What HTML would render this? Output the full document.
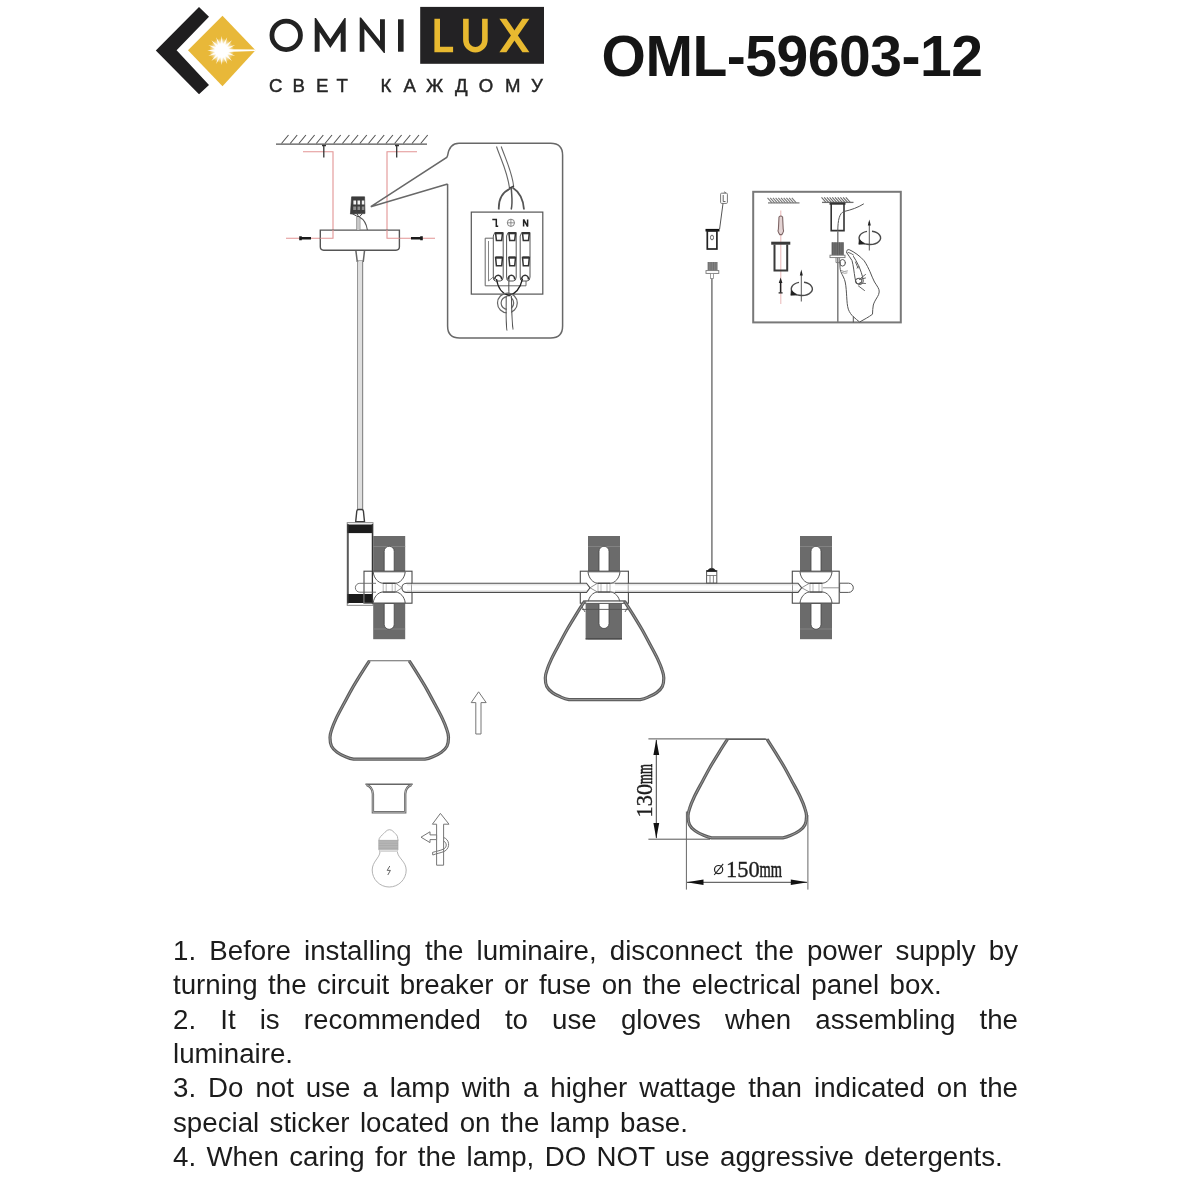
<!DOCTYPE html>
<html>
<head>
<meta charset="utf-8">
<title>OML-59603-12</title>
<style>
html,body{margin:0;padding:0;background:#fff;}
body{will-change:transform;width:1200px;height:1200px;position:relative;overflow:hidden;font-family:"Liberation Sans",sans-serif;}
#art{position:absolute;left:0;top:0;width:1200px;height:1200px;}
#title{position:absolute;left:601.5px;top:26px;font-size:57px;font-weight:bold;color:#151515;line-height:60px;white-space:nowrap;letter-spacing:-0.45px;}
.ln{position:absolute;left:173px;width:845px;font-size:27.7px;line-height:34px;height:34px;color:#1c1c1c;white-space:nowrap;word-spacing:2.7px;}
.j{text-align:justify;text-align-last:justify;white-space:normal;word-spacing:0;}
</style>
</head>
<body>
<svg id="art" viewBox="0 0 1200 1200" width="1200" height="1200">
<g id="logo">
<polygon points="155.8,50.6 199,7 209,16.8 176.6,50.2 209,85 199,94.2" fill="#1f1e1f"/>
<polygon points="188,50.3 222.5,15.8 255.5,50.3 222.5,86.2" fill="#e8b839"/>
<polygon points="236.2,50.6 228.1,51.9 235.1,56.1 227.1,54.2 232.0,60.9 225.3,56.0 227.2,64.0 223.0,57.0 221.7,65.1 220.4,57.0 216.2,64.0 218.1,56.0 211.4,60.9 216.3,54.2 208.3,56.1 215.3,51.9 207.2,50.6 215.3,49.3 208.3,45.1 216.3,47.0 211.4,40.3 218.1,45.2 216.2,37.2 220.4,44.2 221.7,36.1 223.0,44.2 227.2,37.2 225.3,45.2 232.0,40.3 227.1,47.0 235.1,45.1 228.1,49.3" fill="#fff" opacity="0.9"/>
<defs><radialGradient id="glow"><stop offset="0" stop-color="#fff" stop-opacity="1"/><stop offset="0.55" stop-color="#fff" stop-opacity="0.85"/><stop offset="1" stop-color="#fff" stop-opacity="0"/></radialGradient></defs><circle cx="221.7" cy="50.6" r="12.5" fill="url(#glow)"/><circle cx="221.7" cy="50.6" r="7" fill="#fff"/>
<polygon points="225,49.3 255.5,49.6 255.5,51 225,52" fill="#fff"/>
<circle cx="286.2" cy="35.3" r="14.25" fill="none" stroke="#222" stroke-width="4.8"/>
<polygon fill="#222" points="314.7,51.7 314.7,18 316,18 330.3,39.3 344.5,18 345.7,18 345.7,51.7 340.7,51.7 340.7,32.5 330.3,48 319.6,32 319.6,51.7"/>
<polygon fill="#222" points="359.7,51.7 359.7,17.6 361,17.6 380,41 380,19.3 384.9,19.3 384.9,53 383.9,53 364.4,29 364.4,51.7"/>
<rect x="398" y="19.3" width="5.6" height="32.4" fill="#222"/>
<rect x="420.2" y="6.9" width="123.8" height="56.9" fill="#232224"/>
<path d="M437.2,18.75 V49.5 H453.1" fill="none" stroke="#e8b930" stroke-width="5.6"/>
<path d="M465.9,18.75 V40 A9.5,9.7 0 0 0 484.9,40 V18.75" fill="none" stroke="#e8b930" stroke-width="5.6"/>
<path d="M499.4,18.75 H506.4 L529.4,52.25 H522.4 Z" fill="#e8b930"/><path d="M529.4,18.75 H522.4 L499.4,52.25 H506.4 Z" fill="#e8b930"/>
<text x="269 292.6 316 336.5 380.5 403.5 426 455 478.8 505 531" y="92" font-family="Liberation Sans, sans-serif" font-size="18.6" fill="#262626" stroke="#262626" stroke-width="0.45">СВЕТКАЖДОМУ</text>
</g>
<g id="mount" fill="none" stroke-linecap="butt">
<path d="M281.5,143.5 l7,-8.5 M290.2,143.5 l7,-8.5 M298.9,143.5 l7,-8.5 M307.6,143.5 l7,-8.5 M316.3,143.5 l7,-8.5 M325.0,143.5 l7,-8.5 M333.7,143.5 l7,-8.5 M342.4,143.5 l7,-8.5 M351.1,143.5 l7,-8.5 M359.8,143.5 l7,-8.5 M368.5,143.5 l7,-8.5 M377.2,143.5 l7,-8.5 M385.9,143.5 l7,-8.5 M394.6,143.5 l7,-8.5 M403.3,143.5 l7,-8.5 M412.0,143.5 l7,-8.5 M420.7,143.5 l7,-8.5" stroke="#555" stroke-width="1.1"/>
<path d="M276,144.2 H427" stroke="#555" stroke-width="1.3"/>
<path d="M303,151.7 H333 V238.3 H286" stroke="#e29494" stroke-width="1.1"/>
<path d="M417,151.7 H387 V238.3 H435" stroke="#e29494" stroke-width="1.1"/>
<path d="M323.8,145 V157.5 M322,145.5 h4" stroke="#333" stroke-width="1.3"/>
<path d="M396.7,145 V157.5 M395,145.5 h4" stroke="#333" stroke-width="1.3"/>
<path d="M300.5,236.3 v4 M301,238.3 H311" stroke="#1a1a1a" stroke-width="2.6"/>
<path d="M421.5,236.3 v4 M411,238.3 H421" stroke="#1a1a1a" stroke-width="2.6"/>
<path d="M320.3,230.1 H399.4 V246.8 Q399.4,250.2 396,250.2 H323.6 Q320.3,250.2 320.3,246.8 Z" stroke="#555" stroke-width="1.4" fill="#fff"/>
<path d="M333,230 V238.3 H320.3 M387,230 V238.3 H399.7" stroke="#e29494" stroke-width="1.1"/>
<path d="M355.9,250.8 L357.2,261.2 H363.3 L364.5,250.8" stroke="#666" stroke-width="1.5"/>
<path d="M357.7,261 V509.5 M362.6,261 V509.5" stroke="#8c8c8c" stroke-width="1.2"/>
<path d="M358.3,261 V509.5 h3.7 V261z" stroke="none" fill="#dfdfdf"/>
<!-- small terminal -->
<path d="M351.6,196.8 H364.6 L365,213.6 L350.4,214 Z" fill="#3c3c3c" stroke="#333" stroke-width="0.6"/>
<path d="M353.4,200.6 h2.7 v3.9 h-2.7z M357.5,200.6 h2.6 v3.9 h-2.6z M361.8,200.6 h2.5 v3.9 h-2.5z" fill="#f2f2f2" stroke="none"/>
<path d="M353.2,206.4 h2.9 v3.6 h-2.9z M357.5,206.4 h2.6 v3.6 h-2.6z M361.8,206.4 h2.5 v3.6 h-2.5z" fill="#8d8d8d" stroke="none"/>
<path d="M352,213.5 L358.6,217.2 M355.5,211 L358.8,217 M362.5,213.5 L359.2,217" stroke="#444" stroke-width="1"/>
<path d="M357,217 V230 H359.6 V217 Z" fill="#c9c9c9" stroke="none"/>
<path d="M356.6,217 V230 M360,217 V230" stroke="#888" stroke-width="0.8"/>
<path d="M359.4,217 Q366,220.5 367.4,230" stroke="#555" stroke-width="1.1"/>
<!-- callout -->
<path d="M447.6,184 V326 Q447.6,338 459.6,338 H550.6 Q562.6,338 562.6,326 V155.2 Q562.6,143.2 550.6,143.2 H459 Q449.5,143.2 447.6,155.5 L446.7,157.5 L370.8,206.7 L447.6,184" stroke="#686868" stroke-width="1.5"/>
<rect x="471.3" y="212.1" width="71.5" height="82" stroke="#555" stroke-width="1.2"/>
</g>
<g id="callout" fill="none">
<path d="M485.2,238.2 H493.5 M485.2,238.2 V285.8 H526 V281" stroke="#666" stroke-width="1"/>
<path d="M488.5,241 V281 L493.3,277" stroke="#777" stroke-width="0.9"/>
<path d="M493.3,236 L494.8,232.5 H503.2 V277 Q503.2,281 500.2,281 H495.3 Q493.3,281 493.3,277 Z" fill="#fff" stroke="#555" stroke-width="1"/>
<path d="M495.6,233.2 h6.899999999999977 l-0.8,7.2 h-5.299999999999978 z" fill="#fff" stroke="#333" stroke-width="1.5"/>
<path d="M495.6,233.2 h6.899999999999977" stroke="#333" stroke-width="2.2" fill="none"/>
<path d="M495.6,257.5 h6.899999999999977 l-0.8,8.3 h-5.299999999999978 z" fill="#fff" stroke="#333" stroke-width="1.5"/>
<path d="M495.6,257.5 h6.899999999999977" stroke="#333" stroke-width="2.2" fill="none"/>
<path d="M494.8,279.5 A3.4499999999999886,4.2 0 0 1 501.7,279.5" fill="none" stroke="#333" stroke-width="1.6"/>
<path d="M506.6,236 L508.1,232.5 H516.2 V277 Q516.2,281 513.2,281 H508.6 Q506.6,281 506.6,277 Z" fill="#fff" stroke="#555" stroke-width="1"/>
<path d="M508.90000000000003,233.2 h6.600000000000023 l-0.8,7.2 h-5.000000000000023 z" fill="#fff" stroke="#333" stroke-width="1.5"/>
<path d="M508.90000000000003,233.2 h6.600000000000023" stroke="#333" stroke-width="2.2" fill="none"/>
<path d="M508.90000000000003,257.5 h6.600000000000023 l-0.8,8.3 h-5.000000000000023 z" fill="#fff" stroke="#333" stroke-width="1.5"/>
<path d="M508.90000000000003,257.5 h6.600000000000023" stroke="#333" stroke-width="2.2" fill="none"/>
<path d="M508.1,279.5 A3.3000000000000114,4.2 0 0 1 514.7,279.5" fill="none" stroke="#333" stroke-width="1.6"/>
<path d="M520.2,236 L521.7,232.5 H530 V277 Q530,281 527,281 H522.2 Q520.2,281 520.2,277 Z" fill="#fff" stroke="#555" stroke-width="1"/>
<path d="M522.5,233.2 h6.7999999999999545 l-0.8,7.2 h-5.199999999999955 z" fill="#fff" stroke="#333" stroke-width="1.5"/>
<path d="M522.5,233.2 h6.7999999999999545" stroke="#333" stroke-width="2.2" fill="none"/>
<path d="M522.5,257.5 h6.7999999999999545 l-0.8,8.3 h-5.199999999999955 z" fill="#fff" stroke="#333" stroke-width="1.5"/>
<path d="M522.5,257.5 h6.7999999999999545" stroke="#333" stroke-width="2.2" fill="none"/>
<path d="M521.7,279.5 A3.3999999999999773,4.2 0 0 1 528.5,279.5" fill="none" stroke="#333" stroke-width="1.6"/>
<!-- cable in from top -->
<path d="M496.5,146.5 C501,160 507,170 509.6,188.5" stroke="#666" stroke-width="1.1"/>
<path d="M501.2,146.5 C506,160 512,172 513.6,186" stroke="#666" stroke-width="1.1"/>
<path d="M509,188.5 l5,-2.5" stroke="#444" stroke-width="1.4"/>
<path d="M510.5,188.5 C500,193 498.5,202 498.8,209.5" stroke="#555" stroke-width="1.8"/>
<path d="M512.5,187.5 C521,193 523.5,202 524,209.5" stroke="#555" stroke-width="1.8"/>
<path d="M511.3,188 C511.5,195 513,202 511.2,209.5" stroke="#555" stroke-width="1.5"/>
<!-- labels -->
<path d="M492.3,219.4 h4 v6.8 h1.9" stroke="#222" stroke-width="1.5"/>
<circle cx="510.9" cy="222.8" r="3.6" stroke="#777" stroke-width="0.9"/>
<path d="M507.3,222.8 h7.2 M510.9,219.2 v7.2" stroke="#777" stroke-width="0.8"/>
<path d="M523.6,226.6 v-7.2 l4,7.2 v-7.2" stroke="#222" stroke-width="1.5" stroke-linejoin="bevel"/>
<!-- bottom wires -->
<path d="M496.5,279 C498,289 503,294 509,295.5" stroke="#222" stroke-width="1.3"/>
<path d="M522.5,279 C520,289 515,294 509,295.5" stroke="#222" stroke-width="1.3"/>
<path d="M509.2,276 C508.6,284 508.8,290 509,296" stroke="#444" stroke-width="1"/>
<circle cx="507.4" cy="303" r="9.9" stroke="#666" stroke-width="1.2"/>
<circle cx="507.4" cy="303" r="6.3" stroke="#666" stroke-width="1.2"/>
<path d="M506.2,296 C506.4,310 505.6,322 507,330.5" stroke="#555" stroke-width="1.1" />
<path d="M511.4,296 C511.8,310 511.6,320 513,329.5" stroke="#555" stroke-width="1.1"/>
<path d="M506.9,296.5 C507.1,310 506.3,322 507.7,330 L512.3,329 C511,320 511.1,310 510.7,296.5z" fill="#fff" stroke="none"/>
</g>
<g id="hookitem" fill="none">
<rect x="720.6" y="193.2" width="6.8" height="10.2" rx="1" stroke="#777" stroke-width="1"/>
<path d="M723.2,195 v6.5 h2.3 M723.8,192.8 q0.8,-1.6 2,0" stroke="#555" stroke-width="0.9"/>
<path d="M723,203.5 L719.6,229" stroke="#555" stroke-width="1"/>
<path d="M705.5,230.2 H719.5" stroke="#111" stroke-width="2.6"/>
<rect x="707.3" y="231" width="9.6" height="18" stroke="#222" stroke-width="1.7" fill="#fff"/>
<ellipse cx="712" cy="237.5" rx="1.5" ry="2.4" stroke="#555" stroke-width="0.9"/>
<rect x="707.6" y="262" width="9.8" height="8.5" fill="#8a8a8a" stroke="none"/>
<path d="M708.4,262 V270.5 M710.1,262 V270.5 M711.8,262 V270.5 M713.5,262 V270.5 M715.2,262 V270.5 M716.9,262 V270.5" stroke="#666" stroke-width="0.7"/>
<rect x="706" y="270.6" width="12.8" height="2.8" fill="#fff" stroke="#777" stroke-width="0.9"/>
<rect x="710.6" y="273.4" width="2.8" height="5" fill="#fff" stroke="#888" stroke-width="0.8"/>
<path d="M711.9,278.4 V568" stroke="#777" stroke-width="1.5"/>
</g>
<g id="stepbox" fill="none">
<rect x="753.2" y="191.8" width="147.6" height="130.6" stroke="#787878" stroke-width="2"/>
<!-- left step -->
<path d="M768,202.9 H799.5" stroke="#808080" stroke-width="1.3"/>
<path d="M772.0,202.8 l-4.5,-5 M774.7,202.8 l-4.5,-5 M777.4,202.8 l-4.5,-5 M780.1,202.8 l-4.5,-5 M782.8,202.8 l-4.5,-5 M785.5,202.8 l-4.5,-5 M788.2,202.8 l-4.5,-5 M790.9,202.8 l-4.5,-5 M793.6,202.8 l-4.5,-5 M796.3,202.8 l-4.5,-5" stroke="#7c7c7c" stroke-width="1.1"/>
<path d="M780.8,210.5 V304" stroke="#e5a4a4" stroke-width="0.8"/>
<path d="M779,217 q1.8,-2 3.6,0 l0.6,12 q1,2 -0.4,4 l-1,1.6 h-2 l-1,-1.6 q-1.4,-2 -0.4,-4 z" stroke="#7d6464" stroke-width="1.1" fill="#e3d3d3"/>
<path d="M771.2,243.2 H790.3" stroke="#3a3a3a" stroke-width="3"/>
<path d="M774.5,244.5 V270.4 H787.2 V244.5" stroke="#3a3a3a" stroke-width="2"/>
<path d="M780.6,281.5 V292.5" stroke="#222" stroke-width="1.5"/>
<path d="M778.6,292.8 h4 M780.6,279.5 l-1,3 h2z" stroke="#222" stroke-width="1.2"/>
<path d="M801.3,272 V301.5" stroke="#555" stroke-width="1"/>
<path d="M801.3,269.5 l-1.5,6 h3z" fill="#222" stroke="none"/>
<path d="M799,282.4 A10.5,6.7 0 1 0 804,282.3" stroke="#4a4a4a" stroke-width="1.4"/>
<path d="M791.2,290.5 l5.2,4.6 l-5.6,0.2z" fill="#222" stroke="#222" stroke-width="0.6"/>
<!-- right step -->
<path d="M822,202.4 H853.5" stroke="#707070" stroke-width="1.3"/>
<path d="M826.0,202.3 l-4.5,-5 M828.7,202.3 l-4.5,-5 M831.4,202.3 l-4.5,-5 M834.1,202.3 l-4.5,-5 M836.8,202.3 l-4.5,-5 M839.5,202.3 l-4.5,-5 M842.2,202.3 l-4.5,-5 M844.9,202.3 l-4.5,-5 M847.6,202.3 l-4.5,-5 M850.3,202.3 l-4.5,-5" stroke="#6c6c6c" stroke-width="1.1"/>
<path d="M829.5,203.6 H845.5" stroke="#333" stroke-width="2.2"/>
<path d="M831.2,204 V230.6 H844 V204" stroke="#333" stroke-width="1.6"/>
<path d="M837.8,231 C837.8,220 839.5,213 844,211.5 C851,210 858,207.5 863.8,203.8" stroke="#555" stroke-width="1"/>
<path d="M837.8,231 V322" stroke="#7c7c7c" stroke-width="1.5"/>
<rect x="831.6" y="242.3" width="12.2" height="12.8" fill="#777" stroke="none"/>
<path d="M832.4,242.3 V255 M834.1,242.3 V255 M835.9,242.3 V255 M837.6,242.3 V255 M839.4,242.3 V255 M841.1,242.3 V255 M842.9,242.3 V255" stroke="#555" stroke-width="0.8"/>
<rect x="830" y="255.2" width="15" height="2.4" fill="#fff" stroke="#777" stroke-width="0.9"/>
<path d="M836,257.6 v5 h3.6 v-5" stroke="#777" stroke-width="0.9"/>
<path d="M869.3,222 V250.5" stroke="#555" stroke-width="1"/>
<path d="M869.3,219.5 l-1.5,6 h3z" fill="#222" stroke="none"/>
<path d="M867,231.4 A10.7,6.7 0 1 0 872,231.3" stroke="#4a4a4a" stroke-width="1.4"/>
<path d="M859.2,239.5 l5.2,4.6 l-5.6,0.2z" fill="#222" stroke="#222" stroke-width="0.6"/>
<g id="hand" fill="none" stroke="#555" stroke-width="1" stroke-linejoin="round" stroke-linecap="round">
<path d="M846.8,252.8 C846,250.5 847.5,249 849.5,249.8 C854,251.8 860,256 864.2,260.8 C867,265 868.5,268.5 870,271.7 C871.5,275.5 873,279 874.5,282 C877,286 879.6,289 879.2,292 C879,294 878.3,295.5 877.5,296.7 C875.5,300 874,302.5 873.3,305 C872.6,308 872.8,311 872.5,314.2 C869,317 864,319.5 860,321.8" fill="#fff"/>
<path d="M840.2,262.5 C839.6,265.5 840,269 840.8,271.7 C842.5,275.5 844.5,278.5 845.2,282 C846.2,287 846.4,292 846.7,296.7 C847,301.5 847.2,305.5 848.3,309.2 C849.5,312.5 851.5,315 853.3,316.7 C855.5,318.7 857.5,320.3 859.3,321.8"/>
<path d="M853.3,316.7 V322" />
<path d="M846.8,252.8 C848.5,255.5 850.5,258 852,260.5 C853.5,266 854,272 855,278 C855.5,281 856.5,283.5 858.5,284.6 C861,285.2 863,283.5 863.3,281 C862.5,275 860.5,270 858.5,265.5 C857,262 855,259 853.5,256.5"/>
<ellipse cx="858.6" cy="281" rx="3.2" ry="2.6" transform="rotate(-20 858.6 281)"/>
<ellipse cx="842.6" cy="262.8" rx="2.8" ry="3.3"/>
<path d="M848.5,252.5 q3,0.8 5,2.5" stroke-width="0.9"/>
<path d="M855.5,262 l2.5,6 M857,268 l2,-1.5 M859.5,279.5 l6,-1.5 M860,283 l5.5,0.5 M858.5,286 l6,4.5 M861,278 l4.5,-3.5" stroke-width="0.9"/>
<path d="M841,270.5 q3,2 6.5,0.5 M842,272.5 q2.5,1.5 5,0.5" stroke-width="0.8" stroke="#888"/>
</g>
</g>
<g id="lamp" fill="none">
<path d="M355.7,521.6 L356.8,511 Q357,509.5 358.6,509.5 H361.6 Q363.2,509.5 363.4,511 L364.5,521.6 Z" fill="#fff" stroke="#3c3c3c" stroke-width="1.4"/>
<rect x="347.2" y="522.7" width="25.8" height="82.6" fill="#fff" stroke="#777" stroke-width="0.9"/>
<rect x="347.4" y="524.5" width="25.4" height="8.6" fill="#1b1b1b"/>
<rect x="347.4" y="594" width="25.4" height="9" fill="#1b1b1b"/>
<path d="M348,524 V603.5 M372.4,524 V603.5" stroke="#333" stroke-width="1.3"/>
<rect x="373.2" y="536" width="32" height="35.200000000000045" fill="#6b6b6b"/>
<rect x="373.2" y="603.5" width="32" height="35.700000000000045" fill="#6b6b6b"/>
<path d="M373.2,546.5 H405.2 M373.2,629 H405.2" stroke="#8d8d8d" stroke-width="0.7"/>
<path d="M384.2,571.5 V551.3 A5,5 0 0 1 394.2,551.3 V571.5 Z" fill="#fff" stroke="#444" stroke-width="0.8"/>
<path d="M384.2,603.3 V624.3 A5,5 0 0 0 394.2,624.3 V603.3 Z" fill="#fff" stroke="#444" stroke-width="0.8"/>
<rect x="364" y="571.2" width="48" height="32" fill="#fff" stroke="#4a4a4a" stroke-width="1.1"/>
<rect x="588" y="536" width="32" height="35.200000000000045" fill="#6b6b6b"/>
<rect x="588" y="603.5" width="32" height="35.700000000000045" fill="#6b6b6b"/>
<path d="M588,546.5 H620 M588,629 H620" stroke="#8d8d8d" stroke-width="0.7"/>
<path d="M599,571.5 V551.3 A5,5 0 0 1 609,551.3 V571.5 Z" fill="#fff" stroke="#444" stroke-width="0.8"/>
<path d="M599,603.3 V624.3 A5,5 0 0 0 609,624.3 V603.3 Z" fill="#fff" stroke="#444" stroke-width="0.8"/>
<rect x="580.3" y="571.2" width="48.10000000000002" height="32" fill="#fff" stroke="#4a4a4a" stroke-width="1.1"/>
<rect x="800" y="536" width="32" height="35.200000000000045" fill="#6b6b6b"/>
<rect x="800" y="603.5" width="32" height="35.700000000000045" fill="#6b6b6b"/>
<path d="M800,546.5 H832 M800,629 H832" stroke="#8d8d8d" stroke-width="0.7"/>
<path d="M811,571.5 V551.3 A5,5 0 0 1 821,551.3 V571.5 Z" fill="#fff" stroke="#444" stroke-width="0.8"/>
<path d="M811,603.3 V624.3 A5,5 0 0 0 821,624.3 V603.3 Z" fill="#fff" stroke="#444" stroke-width="0.8"/>
<rect x="792.3" y="571.2" width="46.90000000000009" height="32" fill="#fff" stroke="#4a4a4a" stroke-width="1.1"/>
<rect x="364" y="594" width="8.8" height="9" fill="#1b1b1b"/><path d="M364,594 V603.2 H373" stroke="#888" stroke-width="0.9"/><path d="M372.4,571 V603.5" stroke="#333" stroke-width="1.3"/>
<path d="M376,583.3 H359.8 A4.4,4.4 0 0 0 359.8,592.2 H376" stroke="#666" stroke-width="0.9"/>
<!-- bars -->
<path d="M412,583.2 H586 L589.8,587.8 L586,592.4 H412 Z" fill="#fff" stroke="none"/>
<path d="M628.4,583.2 H792.3 V592.4 H628.4 Z" fill="#fff" stroke="none"/>
<path d="M406.5,592.4 A4.6,4.6 0 0 1 406.5,583.2 H586.5 L590,587.8 L586.5,592.4 H406.5" stroke="#4d4d4d" stroke-width="1.1"/>
<path d="M615,583.2 H798 L801.7,587.8 L798,592.4 H615" stroke="#4d4d4d" stroke-width="1.1"/>
<path d="M839.6,583.2 H848.7 A4.6,4.6 0 0 1 848.7,592.4 H839.6 Z" fill="#fff" stroke="#555" stroke-width="1"/>
<path d="M395.7,583.2 L401.9,587.8 L395.7,592 M590,587.8 L597.5,583.2 M590,587.8 L597.5,592 M610.5,583.2 L615,583.2 M610.5,592 L615,592.4 M801.7,587.8 L809.5,583.2 M801.7,587.8 L809.5,592 M822.5,587.8 H839.6" stroke="#777" stroke-width="0.8"/>
<path d="M407,584.8 H587 M615,584.8 H798 M407,590.9 H587 M615,590.9 H798" stroke="#cfcfcf" stroke-width="0.7"/>
<path d="M373.2,571.8 C373.7,578 378.2,583 382.7,583.2 H395.7 C400.2,583 404.7,578 405.2,571.8 Z" fill="#fff" stroke="#555" stroke-width="1"/>
<path d="M373.2,603 C373.7,597 378.2,592.2 382.7,592 H395.7 C400.2,592.2 404.7,597 405.2,603 Z" fill="#fff" stroke="#555" stroke-width="1"/>
<rect x="382.7" y="583.8" width="13" height="7.6" fill="#fff"/>
<path d="M383.2,583.2 V592 M386.2,583.2 V592 M392.2,583.2 V592 M395.2,583.2 V592" stroke="#999" stroke-width="0.7"/>
<path d="M382.7,583.2 H395.7 M382.7,592 H395.7" stroke="#333" stroke-width="1.1"/>
<path d="M588,571.8 C588.5,578 593,583 597.5,583.2 H610.5 C615,583 619.5,578 620,571.8 Z" fill="#fff" stroke="#555" stroke-width="1"/>
<path d="M588,603 C588.5,597 593,592.2 597.5,592 H610.5 C615,592.2 619.5,597 620,603 Z" fill="#fff" stroke="#555" stroke-width="1"/>
<rect x="597.5" y="583.8" width="13" height="7.6" fill="#fff"/>
<path d="M598,583.2 V592 M601,583.2 V592 M607,583.2 V592 M610,583.2 V592" stroke="#999" stroke-width="0.7"/>
<path d="M597.5,583.2 H610.5 M597.5,592 H610.5" stroke="#333" stroke-width="1.1"/>
<path d="M800,571.8 C800.5,578 805,583 809.5,583.2 H822.5 C827,583 831.5,578 832,571.8 Z" fill="#fff" stroke="#555" stroke-width="1"/>
<path d="M800,603 C800.5,597 805,592.2 809.5,592 H822.5 C827,592.2 831.5,597 832,603 Z" fill="#fff" stroke="#555" stroke-width="1"/>
<rect x="809.5" y="583.8" width="13" height="7.6" fill="#fff"/>
<path d="M810,583.2 V592 M813,583.2 V592 M819,583.2 V592 M822,583.2 V592" stroke="#999" stroke-width="0.7"/>
<path d="M809.5,583.2 H822.5 M809.5,592 H822.5" stroke="#333" stroke-width="1.1"/>
<rect x="706.6" y="570.5" width="10.2" height="12.5" fill="#fff" stroke="#555" stroke-width="1"/>
<path d="M706.8,571.5 Q711.7,565 716.6,571.5 Z" fill="#222" stroke="#222" stroke-width="0.8"/>
<path d="M706.6,575.5 h10.2 M710,575.5 v7.5 M713.4,575.5 v7.5" stroke="#666" stroke-width="0.8"/>
<!-- middle shade top join -->
<rect x="585.6" y="603.5" width="36.4" height="35.8" fill="#6b6b6b"/>
<path d="M599,603.3 V623.5 A5,5 0 0 0 609,623.5 V603.3 Z" fill="#fff" stroke="#444" stroke-width="0.8"/>
<path d="M585.6,638.8 H622" stroke="#444" stroke-width="1.2"/>
<path d="M582,609.4 H628 M584.4,600.8 L581.5,606 L585,612 M625,600.8 L628.5,606 L625,612" stroke="#555" stroke-width="0.9"/>
<g transform="translate(543.7,600.7)"><path d="M41.0,0.5 C39.5,2.7 35.3,9.2 32.4,13.9 C29.5,18.6 26.3,23.8 23.4,28.8 C20.6,33.8 17.9,38.9 15.3,43.8 C12.7,48.6 9.8,53.8 7.8,58.1 C5.8,62.4 4.2,66.3 3.2,69.5 C2.1,72.7 1.6,74.5 1.6,77.2 C1.6,79.9 1.9,83.3 3.1,85.8 C4.3,88.3 6.4,90.2 8.7,91.9 C11.1,93.7 14.4,95.3 17.2,96.4 C19.9,97.6 22.4,98.5 25.2,98.9 L96.5,98.9 C99.3,98.5 101.8,97.6 104.5,96.4 C107.3,95.3 110.6,93.7 113.0,91.9 C115.3,90.2 117.4,88.3 118.6,85.8 C119.8,83.3 120.1,79.9 120.1,77.2 C120.1,74.5 119.6,72.7 118.5,69.5 C117.5,66.3 115.9,62.4 113.9,58.1 C111.9,53.8 109.0,48.6 106.4,43.8 C103.8,38.9 101.1,33.8 98.3,28.8 C95.4,23.8 92.2,18.6 89.3,13.9 C86.4,9.2 82.2,2.7 80.8,0.5" fill="none" stroke="#5c5c5c" stroke-width="3.2" stroke-linejoin="round"/><path d="M41.0,0.5 C39.5,2.7 35.3,9.2 32.4,13.9 C29.5,18.6 26.3,23.8 23.4,28.8 C20.6,33.8 17.9,38.9 15.3,43.8 C12.7,48.6 9.8,53.8 7.8,58.1 C5.8,62.4 4.2,66.3 3.2,69.5 C2.1,72.7 1.6,74.5 1.6,77.2 C1.6,79.9 1.9,83.3 3.1,85.8 C4.3,88.3 6.4,90.2 8.7,91.9 C11.1,93.7 14.4,95.3 17.2,96.4 C19.9,97.6 22.4,98.5 25.2,98.9 L96.5,98.9 C99.3,98.5 101.8,97.6 104.5,96.4 C107.3,95.3 110.6,93.7 113.0,91.9 C115.3,90.2 117.4,88.3 118.6,85.8 C119.8,83.3 120.1,79.9 120.1,77.2 C120.1,74.5 119.6,72.7 118.5,69.5 C117.5,66.3 115.9,62.4 113.9,58.1 C111.9,53.8 109.0,48.6 106.4,43.8 C103.8,38.9 101.1,33.8 98.3,28.8 C95.4,23.8 92.2,18.6 89.3,13.9 C86.4,9.2 82.2,2.7 80.8,0.5" fill="none" stroke="#a8a8a8" stroke-width="0.8"/><path d="M39.8,0.5 H82" stroke="#666" stroke-width="1.1" fill="none"/></g>
<rect x="586.5" y="601.6" width="36.5" height="1.8" fill="#fff"/>
<path d="M584.4,600.8 H625 M586.5,603.4 H623" stroke="#555" stroke-width="0.9"/>
<g transform="translate(328.4,660.3)"><path d="M41.0,0.5 C39.5,2.7 35.3,9.2 32.4,13.9 C29.5,18.6 26.3,23.8 23.4,28.8 C20.6,33.8 17.9,38.9 15.3,43.8 C12.7,48.6 9.8,53.8 7.8,58.1 C5.8,62.4 4.2,66.3 3.2,69.5 C2.1,72.7 1.6,74.5 1.6,77.2 C1.6,79.9 1.9,83.3 3.1,85.8 C4.3,88.3 6.4,90.2 8.7,91.9 C11.1,93.7 14.4,95.3 17.2,96.4 C19.9,97.6 22.4,98.5 25.2,98.9 L96.5,98.9 C99.3,98.5 101.8,97.6 104.5,96.4 C107.3,95.3 110.6,93.7 113.0,91.9 C115.3,90.2 117.4,88.3 118.6,85.8 C119.8,83.3 120.1,79.9 120.1,77.2 C120.1,74.5 119.6,72.7 118.5,69.5 C117.5,66.3 115.9,62.4 113.9,58.1 C111.9,53.8 109.0,48.6 106.4,43.8 C103.8,38.9 101.1,33.8 98.3,28.8 C95.4,23.8 92.2,18.6 89.3,13.9 C86.4,9.2 82.2,2.7 80.8,0.5" fill="none" stroke="#5c5c5c" stroke-width="3.2" stroke-linejoin="round"/><path d="M41.0,0.5 C39.5,2.7 35.3,9.2 32.4,13.9 C29.5,18.6 26.3,23.8 23.4,28.8 C20.6,33.8 17.9,38.9 15.3,43.8 C12.7,48.6 9.8,53.8 7.8,58.1 C5.8,62.4 4.2,66.3 3.2,69.5 C2.1,72.7 1.6,74.5 1.6,77.2 C1.6,79.9 1.9,83.3 3.1,85.8 C4.3,88.3 6.4,90.2 8.7,91.9 C11.1,93.7 14.4,95.3 17.2,96.4 C19.9,97.6 22.4,98.5 25.2,98.9 L96.5,98.9 C99.3,98.5 101.8,97.6 104.5,96.4 C107.3,95.3 110.6,93.7 113.0,91.9 C115.3,90.2 117.4,88.3 118.6,85.8 C119.8,83.3 120.1,79.9 120.1,77.2 C120.1,74.5 119.6,72.7 118.5,69.5 C117.5,66.3 115.9,62.4 113.9,58.1 C111.9,53.8 109.0,48.6 106.4,43.8 C103.8,38.9 101.1,33.8 98.3,28.8 C95.4,23.8 92.2,18.6 89.3,13.9 C86.4,9.2 82.2,2.7 80.8,0.5" fill="none" stroke="#a8a8a8" stroke-width="0.8"/><path d="M39.8,0.5 H82" stroke="#666" stroke-width="1.1" fill="none"/></g>
<g transform="translate(686.4,738.9)"><path d="M41.0,0.5 C39.5,2.7 35.3,9.2 32.4,13.9 C29.5,18.6 26.3,23.8 23.4,28.8 C20.6,33.8 17.9,38.9 15.3,43.8 C12.7,48.6 9.8,53.8 7.8,58.1 C5.8,62.4 4.2,66.3 3.2,69.5 C2.1,72.7 1.6,74.5 1.6,77.2 C1.6,79.9 1.9,83.3 3.1,85.8 C4.3,88.3 6.4,90.2 8.7,91.9 C11.1,93.7 14.4,95.3 17.2,96.4 C19.9,97.6 22.4,98.5 25.2,98.9 L96.5,98.9 C99.3,98.5 101.8,97.6 104.5,96.4 C107.3,95.3 110.6,93.7 113.0,91.9 C115.3,90.2 117.4,88.3 118.6,85.8 C119.8,83.3 120.1,79.9 120.1,77.2 C120.1,74.5 119.6,72.7 118.5,69.5 C117.5,66.3 115.9,62.4 113.9,58.1 C111.9,53.8 109.0,48.6 106.4,43.8 C103.8,38.9 101.1,33.8 98.3,28.8 C95.4,23.8 92.2,18.6 89.3,13.9 C86.4,9.2 82.2,2.7 80.8,0.5" fill="none" stroke="#5c5c5c" stroke-width="3.2" stroke-linejoin="round"/><path d="M41.0,0.5 C39.5,2.7 35.3,9.2 32.4,13.9 C29.5,18.6 26.3,23.8 23.4,28.8 C20.6,33.8 17.9,38.9 15.3,43.8 C12.7,48.6 9.8,53.8 7.8,58.1 C5.8,62.4 4.2,66.3 3.2,69.5 C2.1,72.7 1.6,74.5 1.6,77.2 C1.6,79.9 1.9,83.3 3.1,85.8 C4.3,88.3 6.4,90.2 8.7,91.9 C11.1,93.7 14.4,95.3 17.2,96.4 C19.9,97.6 22.4,98.5 25.2,98.9 L96.5,98.9 C99.3,98.5 101.8,97.6 104.5,96.4 C107.3,95.3 110.6,93.7 113.0,91.9 C115.3,90.2 117.4,88.3 118.6,85.8 C119.8,83.3 120.1,79.9 120.1,77.2 C120.1,74.5 119.6,72.7 118.5,69.5 C117.5,66.3 115.9,62.4 113.9,58.1 C111.9,53.8 109.0,48.6 106.4,43.8 C103.8,38.9 101.1,33.8 98.3,28.8 C95.4,23.8 92.2,18.6 89.3,13.9 C86.4,9.2 82.2,2.7 80.8,0.5" fill="none" stroke="#a8a8a8" stroke-width="0.8"/><path d="M39.8,0.5 H82" stroke="#666" stroke-width="1.1" fill="none"/></g>
</g>
<g id="parts" fill="none">
<!-- up arrow -->
<path d="M478.6,691.8 L486.2,702.6 H481 V734 H475.8 V702.6 H471.2 Z" stroke="#777" stroke-width="1" fill="#fff"/>
<!-- socket cup -->
<path d="M365.4,784.2 H412.7" stroke="#666" stroke-width="1.6"/>
<path d="M366.5,784.8 Q372.6,786.8 372.9,794 V812.3 H405.2 V794 Q405.5,786.8 411.6,784.8" stroke="#666" stroke-width="2.4"/>
<path d="M366.5,784.8 Q372.6,786.8 372.9,794 V812.3 H405.2 V794 Q405.5,786.8 411.6,784.8" stroke="#ccc" stroke-width="0.7"/>
<!-- bulb -->
<path d="M378.9,840.4 L379.3,838.4 C381,835.6 383.6,833.8 384.9,832.3 Q389.5,827 394.1,832.3 C395.4,833.8 398,835.6 397.7,838.4 L398.1,840.4 Z" stroke="#aaa" stroke-width="0.9" fill="#fff"/>
<rect x="378.8" y="840.4" width="19.2" height="9.4" fill="#bcbcbc" stroke="#aaa" stroke-width="0.7"/>
<path d="M378.8,842.0 H398 M378.8,843.7 H398 M378.8,845.4 H398 M378.8,847.1 H398 M378.8,848.6 H398" stroke="#a4a4a4" stroke-width="0.7"/><rect x="379.4" y="849.9" width="18" height="2" fill="#e4e4e4" stroke="#bbb" stroke-width="0.5"/>
<path d="M380,852 C379.5,858 372.4,861.5 372.2,870 A17,17 0 0 0 406.2,870 C406,861.5 398,858 397.4,852" stroke="#aaa" stroke-width="0.9" fill="#fff"/>
<path d="M389.8,866 L387.2,870.4 H390.4 L387.8,875" stroke="#555" stroke-width="0.9"/>
<!-- rotate arrows -->
<path d="M440.4,813.4 L449,824.2 H443.6 V865.2 H436.6 V824.2 H432.4 Z" stroke="#777" stroke-width="1" fill="#fff"/>
<path d="M421,837.2 L430,831.8 V834.9 H436.6 V839.6 H430 V842.6 Z" stroke="#777" stroke-width="1" fill="#fff"/>
<path d="M443.7,837.5 C449.5,839.5 450.5,847.5 445,851 C441,853 436.5,853.5 432.8,855" stroke="#777" stroke-width="1"/>
<path d="M443.7,841 C447,843 447.2,847 443.7,849 C440,850.8 436,851.3 432.5,852.4 L432.8,855" stroke="#777" stroke-width="1"/>
</g>
<g id="dims" fill="none">
<path d="M648.4,738.9 H765.8 M648.4,839.2 H710" stroke="#555" stroke-width="1"/>
<path d="M656.3,740 V838" stroke="#444" stroke-width="1"/>
<path d="M656.3,739.3 L653.4,755 H659.2 Z M656.3,838.8 L653.4,823 H659.2 Z" fill="#111" stroke="none"/>
<path d="M686.4,811.5 V889.6 M807.9,815 V889.6" stroke="#666" stroke-width="1"/>
<path d="M687,882.3 H807" stroke="#444" stroke-width="1"/>
<path d="M686.6,882.3 L703.5,879.5 V885.1 Z M807.7,882.3 L790.8,879.5 V885.1 Z" fill="#111" stroke="none"/>
<g font-family="Liberation Serif, serif" font-size="22.4" fill="#1e1e1e" stroke="#1e1e1e" stroke-width="0.35">
<text transform="translate(652.3,817.5) rotate(-90)"><tspan>130</tspan><tspan textLength="20" lengthAdjust="spacingAndGlyphs" stroke-width="0.6">mm</tspan></text>
<text x="726" y="877.4"><tspan>150</tspan><tspan textLength="22.5" lengthAdjust="spacingAndGlyphs" stroke-width="0.6">mm</tspan></text>
</g>
<circle cx="718.6" cy="869.6" r="4.1" stroke="#222" stroke-width="1.2"/>
<path d="M714.2,875 L723.2,863.8" stroke="#222" stroke-width="1.1"/>
</g>

</svg>
<div id="title">OML-59603-12</div>
<div class="ln j" style="top:934px">1. Before installing the luminaire, disconnect the power supply by</div>
<div class="ln" style="top:968px">turning the circuit breaker or fuse on the electrical panel box.</div>
<div class="ln j" style="top:1003px">2. It is recommended to use gloves when assembling the</div>
<div class="ln" style="top:1037px">luminaire.</div>
<div class="ln j" style="top:1071px">3. Do not use a lamp with a higher wattage than indicated on the</div>
<div class="ln" style="top:1106px">special sticker located on the lamp base.</div>
<div class="ln" style="top:1140px">4. When caring for the lamp, DO NOT use aggressive detergents.</div>
</body>
</html>
